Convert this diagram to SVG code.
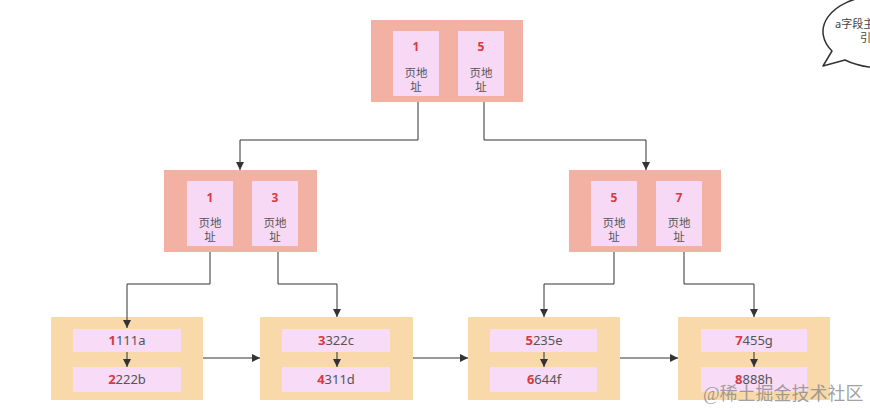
<svg xmlns="http://www.w3.org/2000/svg" width="870" height="408" viewBox="0 0 870 408">
<style>
.outer{fill:#f3b1a4;}
.leaf{fill:#f9d8a9;}
.key{fill:#f7d9f6;}
.rec{fill:#f7dbf7;}
.num{font-family:"Noto Sans","Noto Sans CJK SC",sans-serif;font-size:12px;font-weight:bold;fill:#d63a3f;text-anchor:middle;}
.lbl{font-family:"Noto Sans","Noto Sans CJK SC",sans-serif;font-size:11.5px;fill:#555;text-anchor:middle;}
.rt{font-family:"Noto Sans","Noto Sans CJK SC",sans-serif;font-size:13px;fill:#555;text-anchor:middle;}
.rt tspan.r{fill:#d63a3f;font-weight:bold;}
.ln{fill:none;stroke:#333;stroke-width:1;}
</style>
<defs>
<marker id="ah" viewBox="0 0 10 10" refX="10" refY="5" markerWidth="8" markerHeight="8" markerUnits="userSpaceOnUse" orient="auto">
<path d="M0,0 L10,5 L0,10 Z" fill="#333"/>
</marker>
</defs>
<rect width="870" height="408" fill="#ffffff"/>

<g id="root">
<rect class="outer" x="371" y="20" width="152" height="82"/>
<rect class="key" x="393" y="31" width="46" height="65"/>
<rect class="key" x="458" y="31" width="46" height="65"/>
<text class="num" x="416" y="51">1</text>
<text class="lbl" x="416" y="77">页地</text>
<text class="lbl" x="416" y="91">址</text>
<text class="num" x="481" y="51">5</text>
<text class="lbl" x="481" y="77">页地</text>
<text class="lbl" x="481" y="91">址</text>
</g>

<g id="mid-left">
<rect class="outer" x="164" y="170" width="153" height="82"/>
<rect class="key" x="187" y="181" width="46" height="65"/>
<rect class="key" x="252" y="181" width="46" height="65"/>
<text class="num" x="210" y="202">1</text>
<text class="lbl" x="210" y="227">页地</text>
<text class="lbl" x="210" y="241">址</text>
<text class="num" x="275" y="202">3</text>
<text class="lbl" x="275" y="227">页地</text>
<text class="lbl" x="275" y="241">址</text>
</g>

<g id="mid-right">
<rect class="outer" x="569" y="170" width="152" height="82"/>
<rect class="key" x="591" y="181" width="46" height="65"/>
<rect class="key" x="656" y="181" width="46" height="65"/>
<text class="num" x="614" y="202">5</text>
<text class="lbl" x="614" y="227">页地</text>
<text class="lbl" x="614" y="241">址</text>
<text class="num" x="679" y="202">7</text>
<text class="lbl" x="679" y="227">页地</text>
<text class="lbl" x="679" y="241">址</text>
</g>

<g id="leaf1">
<rect class="leaf" x="51" y="317" width="152" height="83"/>
<rect class="rec" x="73" y="329" width="108" height="23"/>
<rect class="rec" x="73" y="367" width="108" height="25"/>
<text class="rt" x="127" y="345"><tspan class="r">1</tspan>111a</text>
<text class="rt" x="127" y="384"><tspan class="r">2</tspan>222b</text>
</g>

<g id="leaf2">
<rect class="leaf" x="260" y="317" width="153" height="83"/>
<rect class="rec" x="282" y="329" width="108" height="23"/>
<rect class="rec" x="282" y="367" width="108" height="25"/>
<text class="rt" x="336" y="345"><tspan class="r">3</tspan>322c</text>
<text class="rt" x="336" y="384"><tspan class="r">4</tspan>311d</text>
</g>

<g id="leaf3">
<rect class="leaf" x="468" y="317" width="152" height="83"/>
<rect class="rec" x="490" y="329" width="107" height="23"/>
<rect class="rec" x="490" y="367" width="107" height="25"/>
<text class="rt" x="544" y="345"><tspan class="r">5</tspan>235e</text>
<text class="rt" x="544" y="384"><tspan class="r">6</tspan>644f</text>
</g>

<g id="leaf4">
<rect class="leaf" x="678" y="317" width="152" height="83"/>
<rect class="rec" x="701" y="329" width="106" height="23"/>
<rect class="rec" x="701" y="367" width="106" height="25"/>
<text class="rt" x="754" y="345"><tspan class="r">7</tspan>455g</text>
<text class="rt" x="754" y="384"><tspan class="r">8</tspan>888h</text>
</g>

<g id="connectors">
<path class="ln" d="M418,102 V140 H240 V170" marker-end="url(#ah)"/>
<path class="ln" d="M484,102 V140 H646 V170" marker-end="url(#ah)"/>
<path class="ln" d="M210,252 V284 H127 V328" marker-end="url(#ah)"/>
<path class="ln" d="M278,252 V284 H337 V317" marker-end="url(#ah)"/>
<path class="ln" d="M614,252 V284 H544 V317" marker-end="url(#ah)"/>
<path class="ln" d="M684,252 V284 H754 V317" marker-end="url(#ah)"/>
<path class="ln" d="M203,358 H260" marker-end="url(#ah)"/>
<path class="ln" d="M413,358 H468" marker-end="url(#ah)"/>
<path class="ln" d="M620,358 H678" marker-end="url(#ah)"/>
<path class="ln" d="M127,352 V367" marker-end="url(#ah)"/>
<path class="ln" d="M337,352 V367" marker-end="url(#ah)"/>
<path class="ln" d="M544,352 V367" marker-end="url(#ah)"/>
<path class="ln" d="M754,352 V367" marker-end="url(#ah)"/>
</g>

<g id="callout">
<path d="M832,51 A57,36 0 1 1 845,60 L823,66 Z" fill="#ffffff" stroke="#333" stroke-width="1.5" stroke-linejoin="round"/>
<text x="835" y="28" font-family="Noto Sans,Noto Sans CJK SC,sans-serif" font-size="11" fill="#444">a字段主</text>
<text x="860" y="42" font-family="Noto Sans,Noto Sans CJK SC,sans-serif" font-size="11" fill="#444">引</text>
</g>

<text x="703" y="400" font-family="Liberation Serif,Noto Sans CJK SC,serif" font-size="18" fill="#888" fill-opacity="0.8">@稀土掘金技术社区</text>
</svg>
